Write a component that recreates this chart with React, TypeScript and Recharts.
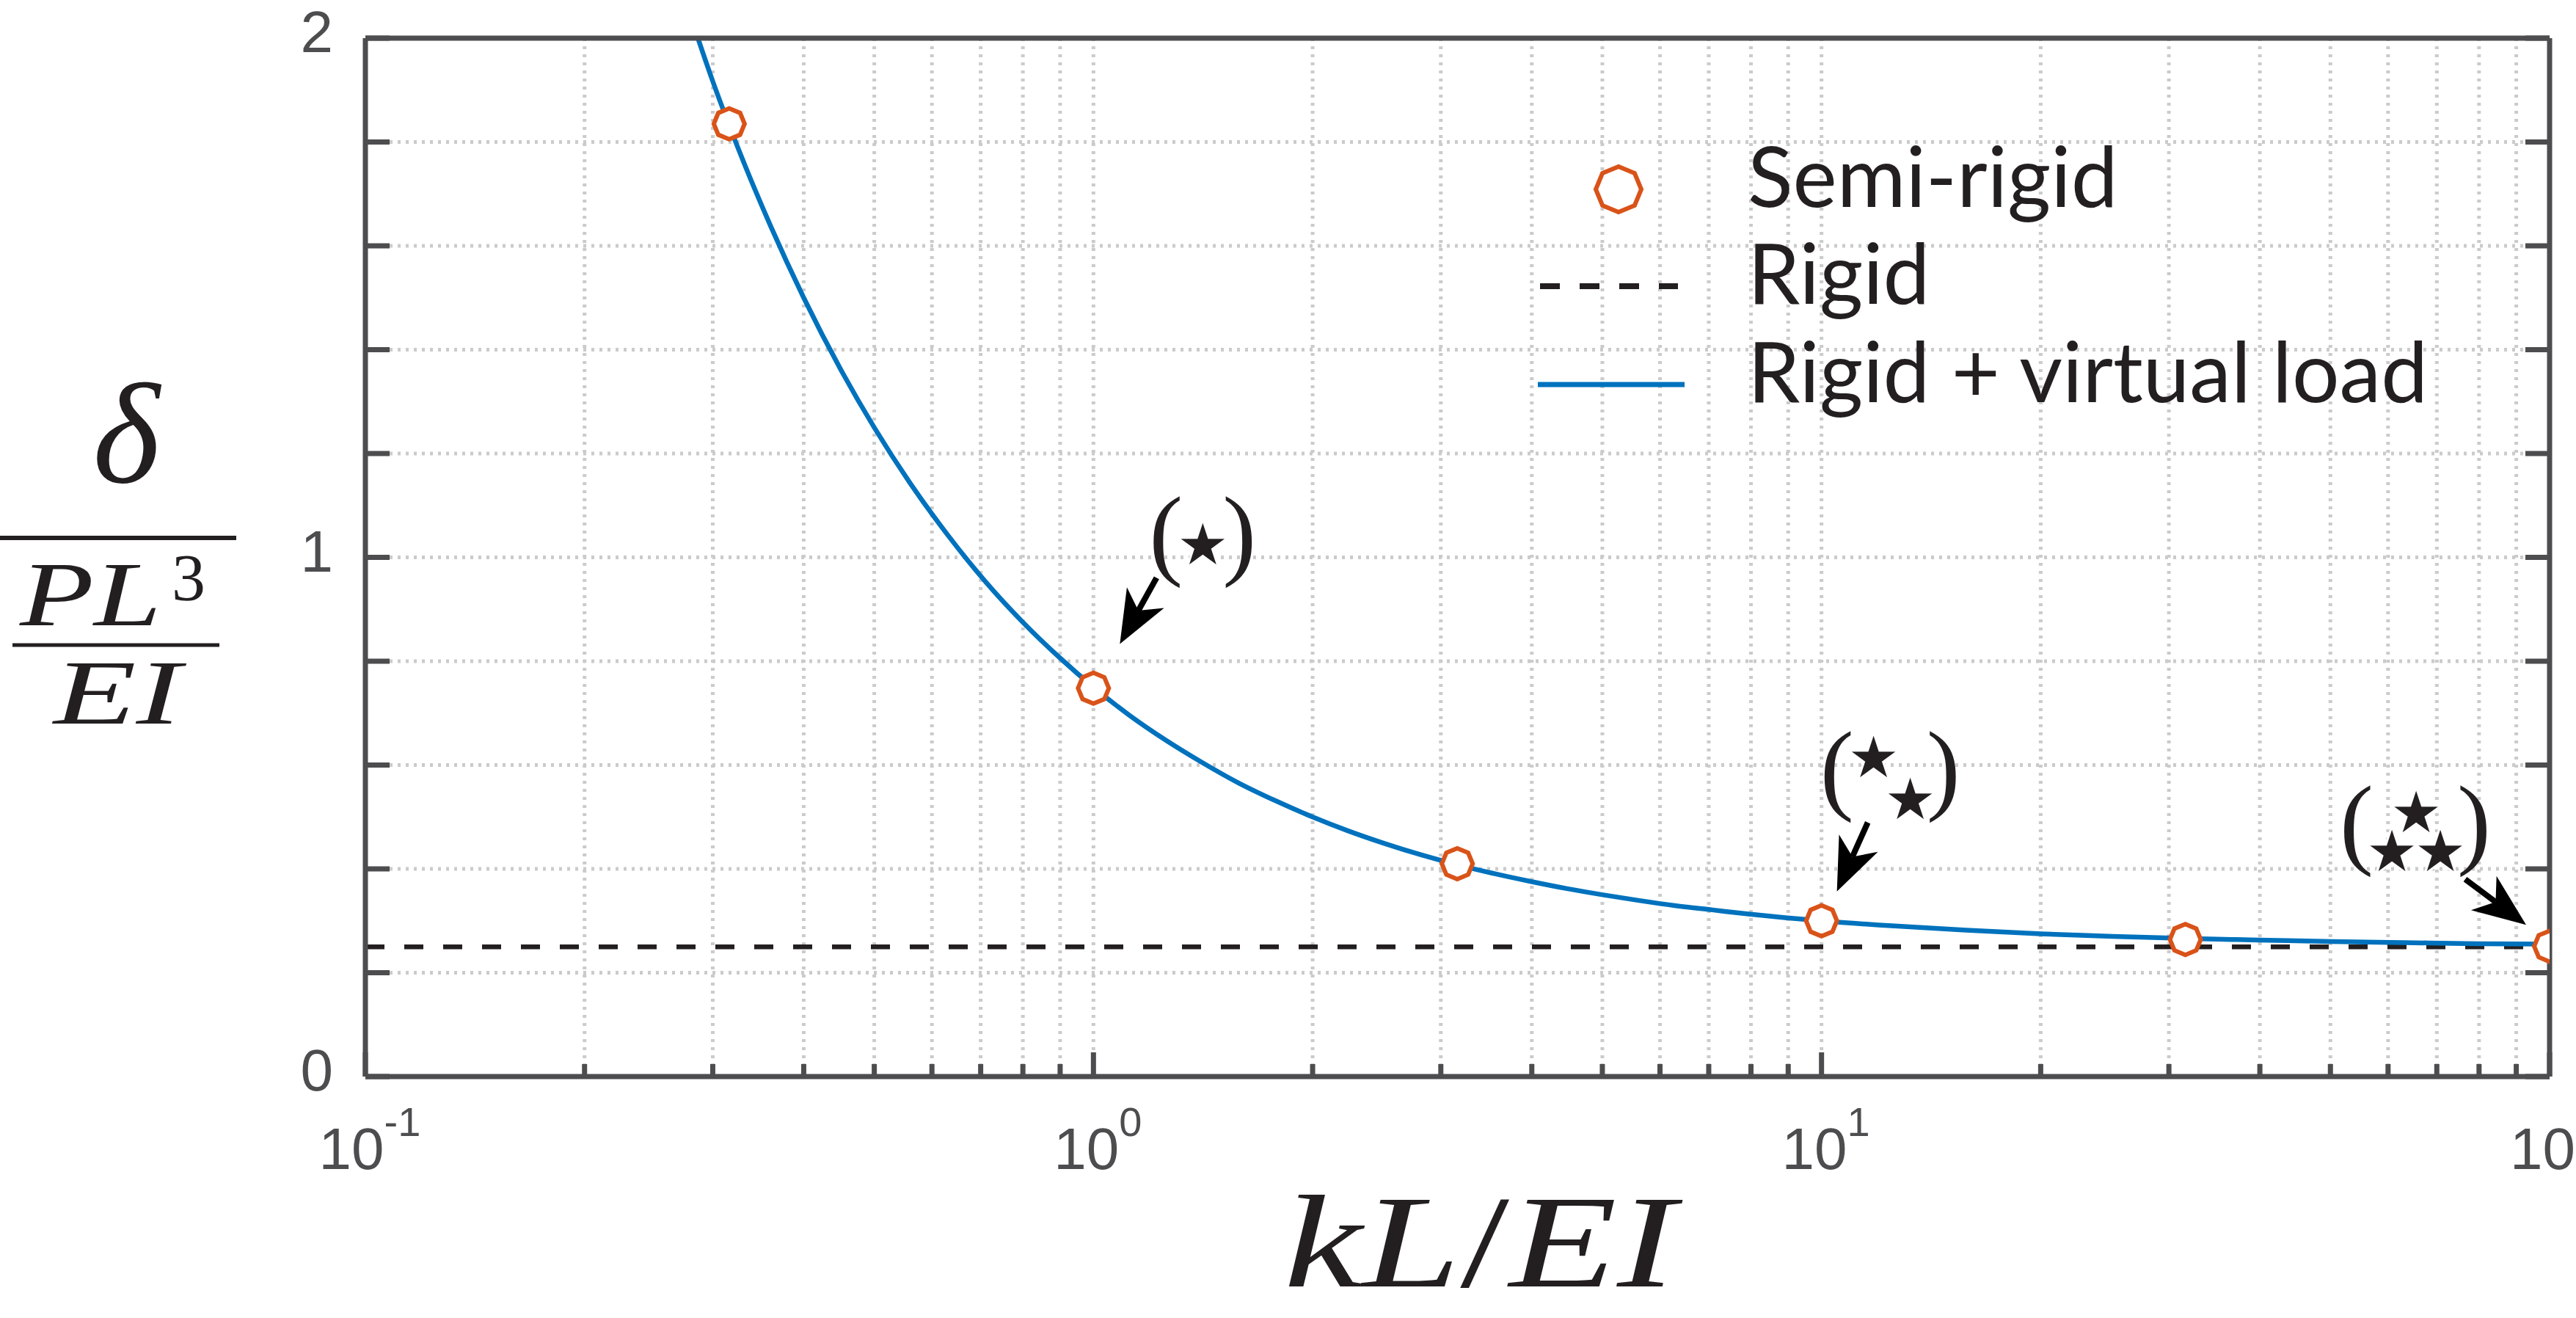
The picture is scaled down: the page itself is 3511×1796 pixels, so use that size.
import React from 'react';
import {
  ComposedChart,
  Line,
  Scatter,
  XAxis,
  YAxis,
  CartesianGrid,
  Legend,
  ReferenceDot,
} from 'recharts';

// tick positions
const xTicks = [
  0.1, 0.2, 0.3, 0.4, 0.5, 0.6, 0.7, 0.8, 0.9,
  1, 2, 3, 4, 5, 6, 7, 8, 9,
  10, 20, 30, 40, 50, 60, 70, 80, 90, 100,
];
const xDecades = [0.1, 1, 10, 100];
const xDecadeExp = ['-1', '0', '1', '2'];
const yTicks = [0, 0.2, 0.4, 0.6, 0.8, 1, 1.2, 1.4, 1.6, 1.8, 2];
const yLabelled = [0, 1, 2];

// semi-rigid markers
const semiX = [0.316, 1, 3.16, 10, 31.6, 100];
const semiY = [1.835, 0.748, 0.41, 0.3, 0.264, 0.251];

// rigid + virtual load curve
const curveX = [
  0.28, 0.3, 0.33, 0.36, 0.4, 0.45, 0.5, 0.56, 0.63, 0.71, 0.8, 0.9, 1,
  1.12, 1.26, 1.41, 1.58, 1.78, 2, 2.24, 2.51, 2.82, 3.16, 3.55, 3.98,
  4.47, 5.01, 5.62, 6.31, 7.08, 7.94, 8.91, 10, 12.6, 15.8, 20, 25.1,
  31.6, 39.8, 50.1, 63.1, 79.4, 100,
];
const curveY = [
  2.04, 1.917, 1.765, 1.639, 1.5, 1.361, 1.25, 1.143, 1.044, 0.954, 0.875,
  0.806, 0.75, 0.696, 0.647, 0.605, 0.566, 0.531, 0.5, 0.473, 0.449, 0.427,
  0.408, 0.391, 0.376, 0.362, 0.35, 0.339, 0.329, 0.321, 0.313, 0.306, 0.3,
  0.29, 0.282, 0.275, 0.27, 0.266, 0.263, 0.26, 0.258, 0.256, 0.255,
];

// rigid (dashed)
const rigidX = [0.1, 100];
const rigidY = [0.25, 0.25];

// annotated points: (*), (**), (***)
const annotX = [1, 10, 100];
const annotY = [0.75, 0.3, 0.25];

const legendOrder = ['Semi-rigid', 'Rigid', 'Rigid + virtual load'];

const AXIS = '#4d4d4f';
const GRID = '#cbcbcb';
const BLUE = '#0072bd';
const ORANGE = '#d95319';
const INK = '#231f20';
const SANS = '"Liberation Sans", Arial, Helvetica, sans-serif';
const SERIF = '"Liberation Serif", "Times New Roman", serif';
const LEGEND_FONT = 'Lato, "Liberation Sans", sans-serif';

const semiData = semiX.map((x, i) => ({ x, y: semiY[i] }));
const curveData = curveX.map((x, i) => ({ x, y: curveY[i] }));
const rigidData = rigidX.map((x, i) => ({ x, y: rigidY[i] }));

function octagonPoints(cx: number, cy: number, r: number) {
  const pts: string[] = [];
  for (let i = 0; i < 8; i++) {
    const a = (i * Math.PI) / 4;
    pts.push(`${cx + r * Math.cos(a)},${cy - r * Math.sin(a)}`);
  }
  return pts.join(' ');
}

function Octagon(props: any) {
  const { cx, cy } = props;
  if (cx == null || cy == null) return null;
  return (
    <polygon
      points={octagonPoints(cx, cy, 21)}
      fill="#fff"
      stroke={ORANGE}
      strokeWidth={6}
    />
  );
}

function isDecade(v: number) {
  return xDecades.findIndex((d) => Math.abs(d - v) < 1e-9);
}

function BottomTick(props: any) {
  const { x, y, payload } = props;
  const di = isDecade(payload.value);
  return (
    <g>
      <line x1={x} x2={x} y1={y} y2={y - (di >= 0 ? 33 : 17)} stroke={AXIS} strokeWidth={7} />
      {di >= 0 && (
        <text x={x + 6} y={y + 126} textAnchor="middle" fontFamily={SANS} fontSize={80} fill={AXIS}>
          10
          <tspan dy={-45} fontSize={56}>
            {xDecadeExp[di]}
          </tspan>
        </text>
      )}
    </g>
  );
}

function TopTick(props: any) {
  const { x, y, payload } = props;
  const di = isDecade(payload.value);
  return <line x1={x} x2={x} y1={y} y2={y + (di >= 0 ? 33 : 17)} stroke={AXIS} strokeWidth={7} />;
}

function LeftTick(props: any) {
  const { x, y, payload } = props;
  const v = payload.value;
  const show = yLabelled.some((l) => Math.abs(l - v) < 1e-9);
  return (
    <g>
      <line x1={x} x2={x + 33} y1={y} y2={y} stroke={AXIS} strokeWidth={7} />
      {show && (
        <text x={x - 44} y={y + 19} textAnchor="end" fontFamily={SANS} fontSize={80} fill={AXIS}>
          {v}
        </text>
      )}
    </g>
  );
}

function RightTick(props: any) {
  const { x, y } = props;
  return <line x1={x} x2={x - 33} y1={y} y2={y} stroke={AXIS} strokeWidth={7} />;
}

function YLabel() {
  return (
    <g fill={INK} fontFamily={SERIF}>
      <text x={172} y={657} textAnchor="middle" fontSize={196} fontStyle="italic">
        δ
      </text>
      <line x1={0} x2={322} y1={733} y2={733} stroke={INK} strokeWidth={6} />
      <text x={27} y={852} fontSize={125} fontStyle="italic" textLength={193} lengthAdjust="spacingAndGlyphs">
        PL
      </text>
      <text x={257} y={818} textAnchor="middle" fontSize={92}>
        3
      </text>
      <line x1={17} x2={299} y1={879} y2={879} stroke={INK} strokeWidth={5} />
      <text x={73} y={986} fontSize={125} fontStyle="italic" textLength={174} lengthAdjust="spacingAndGlyphs">
        EI
      </text>
    </g>
  );
}

function XLabel() {
  return (
    <text
      x={1750}
      y={1753}
      fontFamily={SERIF}
      fontSize={180}
      fill={INK}
      fontStyle="italic"
      textLength={534}
      lengthAdjust="spacingAndGlyphs"
    >
      kL
      <tspan fontStyle="normal">/</tspan>
      EI
    </text>
  );
}

function Arrow({ sx, sy, tx, ty }: { sx: number; sy: number; tx: number; ty: number }) {
  const dx = tx - sx;
  const dy = ty - sy;
  const len = Math.hypot(dx, dy);
  const ux = dx / len;
  const uy = dy / len;
  const nx = -uy;
  const ny = ux;
  const headLen = 72;
  const half = 29;
  const bx = tx - ux * headLen;
  const by = ty - uy * headLen;
  const kx = tx - ux * (headLen * 0.72);
  const ky = ty - uy * (headLen * 0.72);
  const pts = `${tx},${ty} ${bx + nx * half},${by + ny * half} ${kx},${ky} ${bx - nx * half},${by - ny * half}`;
  return (
    <g>
      <line x1={sx} y1={sy} x2={kx} y2={ky} stroke="#000" strokeWidth={8} />
      <polygon points={pts} fill="#000" />
    </g>
  );
}

// offsets of text/arrows around each annotated point
const annotLayout = [
  { l: 84, r: 214, c: -199, stars: [[149, -199]], arrow: [86, -149, 36, -59] },
  { l: 6, r: 181, c: -198, stars: [[71, -227], [121, -170]], arrow: [63, -134, 21, -40] },
  { l: -278, r: -88, c: -159, stars: [[-182, -188], [-215, -135], [-149, -135]], arrow: [-115, -92, -32, -30] },
];

function Annotation({ cx, cy, k }: { cx: number; cy: number; k: number }) {
  if (cx == null || cy == null) return null;
  const a = annotLayout[k];
  const base = cy + a.c + 35;
  return (
    <g>
      <text x={cx + a.l - 8} y={base} fontFamily={SERIF} fontSize={138} fill={INK}>
        (
      </text>
      <text x={cx + a.r + 8} y={base} textAnchor="end" fontFamily={SERIF} fontSize={138} fill={INK}>
        )
      </text>
      {a.stars.map((s, i) => (
        <text
          key={i}
          x={cx + s[0]}
          y={cy + s[1]}
          textAnchor="middle"
          dominantBaseline="central"
          fontFamily='"DejaVu Sans", sans-serif'
          fontSize={180}
          fill={INK}
          stroke="#fff"
          strokeWidth={3}
        >
          ⋆
        </text>
      ))}
      <Arrow sx={cx + a.arrow[0]} sy={cy + a.arrow[1]} tx={cx + a.arrow[2]} ty={cy + a.arrow[3]} />
    </g>
  );
}

function LegendBox() {
  const rowY = [78, 210, 344];
  return (
    <svg width={1400} height={420} style={{ overflow: 'visible', display: 'block' }}>
      {legendOrder.map((name, i) => (
        <g key={name}>
          {i === 0 && (
            <polygon points={octagonPoints(126, rowY[i], 31)} fill="#fff" stroke={ORANGE} strokeWidth={6} />
          )}
          {i === 1 && (
            <line x1={19} x2={207} y1={rowY[i]} y2={rowY[i]} stroke={INK} strokeWidth={8} strokeDasharray="27 27" />
          )}
          {i === 2 && <line x1={16} x2={216} y1={rowY[i]} y2={rowY[i]} stroke={BLUE} strokeWidth={7} />}
          <text x={302} y={rowY[i] + 24} fontFamily={LEGEND_FONT} fontSize={114} fill={INK}>
            {name}
          </text>
        </g>
      ))}
    </svg>
  );
}

export default function App() {
  return (
    <div style={{ position: 'absolute', left: 0, top: 0, background: '#fff' }}>
      <ComposedChart width={3511} height={1796} margin={{ top: 0, right: 0, bottom: 0, left: 0 }}>
        <CartesianGrid stroke={GRID} strokeWidth={5} strokeDasharray="4 7" />
        <XAxis
          dataKey="x"
          type="number"
          scale="log"
          domain={[0.1, 100]}
          allowDataOverflow
          ticks={xTicks}
          interval={0}
          height={329}
          tickSize={0}
          tickMargin={0}
          tickLine={false}
          axisLine={{ stroke: AXIS, strokeWidth: 7 }}
          tick={(p: any) => <BottomTick {...p} />}
          label={() => <XLabel />}
        />
        <XAxis
          xAxisId="top"
          orientation="top"
          type="number"
          scale="log"
          domain={[0.1, 100]}
          allowDataOverflow
          ticks={xTicks}
          interval={0}
          height={52}
          tickSize={0}
          tickMargin={0}
          tickLine={false}
          axisLine={{ stroke: AXIS, strokeWidth: 7 }}
          tick={(p: any) => <TopTick {...p} />}
        />
        <YAxis
          dataKey="y"
          type="number"
          domain={[0, 2]}
          allowDataOverflow
          ticks={yTicks}
          interval={0}
          width={498}
          tickSize={0}
          tickMargin={0}
          tickLine={false}
          axisLine={{ stroke: AXIS, strokeWidth: 7 }}
          tick={(p: any) => <LeftTick {...p} />}
          label={() => <YLabel />}
        />
        <YAxis
          yAxisId="right"
          orientation="right"
          type="number"
          domain={[0, 2]}
          allowDataOverflow
          ticks={yTicks}
          interval={0}
          width={36}
          tickSize={0}
          tickMargin={0}
          tickLine={false}
          axisLine={{ stroke: AXIS, strokeWidth: 7 }}
          tick={(p: any) => <RightTick {...p} />}
        />
        <Line
          data={rigidData}
          dataKey="y"
          name="Rigid"
          type="linear"
          stroke={INK}
          strokeWidth={6.5}
          strokeDasharray="26 27"
          dot={false}
          activeDot={false}
          isAnimationActive={false}
        />
        <Line
          data={curveData}
          dataKey="y"
          name="Rigid + virtual load"
          type="monotone"
          stroke={BLUE}
          strokeWidth={6.5}
          dot={false}
          activeDot={false}
          isAnimationActive={false}
        />
        <Scatter
          data={semiData}
          dataKey="y"
          name="Semi-rigid"
          shape={(p: any) => <Octagon {...p} />}
          isAnimationActive={false}
        />
        {annotX.map((x, i) => (
          <ReferenceDot
            key={i}
            x={x}
            y={annotY[i]}
            r={0}
            ifOverflow="visible"
            shape={(p: any) => <Annotation cx={p.cx} cy={p.cy} k={i} />}
          />
        ))}
        <Legend
          content={() => <LegendBox />}
          wrapperStyle={{ left: 2080, top: 180, width: 0, height: 0, overflow: 'visible' }}
        />
      </ComposedChart>
    </div>
  );
}
